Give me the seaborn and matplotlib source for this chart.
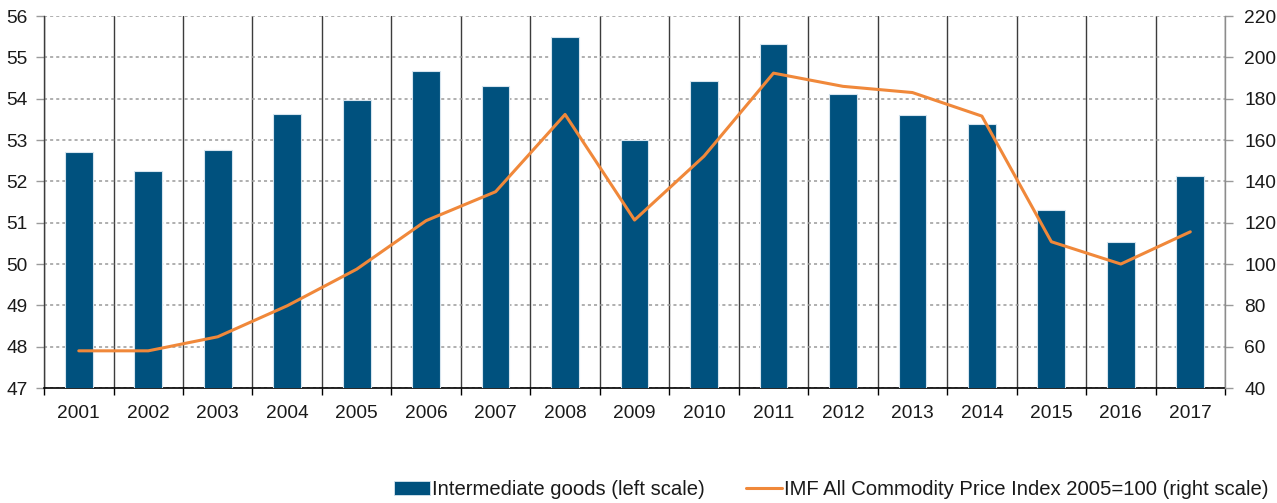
import numpy as np
import pandas as pd
import matplotlib
matplotlib.use("Agg")
import matplotlib.pyplot as plt
import seaborn as sns
from matplotlib.patches import Patch
from matplotlib.lines import Line2D

years = ["2001", "2002", "2003", "2004", "2005", "2006", "2007", "2008", "2009",
         "2010", "2011", "2012", "2013", "2014", "2015", "2016", "2017"]
intermediate_goods = [52.7, 52.25, 52.77, 53.62, 53.96, 54.66, 54.3, 55.5, 53.0,
                      54.43, 55.32, 54.12, 53.6, 53.4, 51.3, 50.54, 52.14]
commodity_index = [58, 58, 64.8, 79.8, 97.5, 121, 135, 172.4, 121.3,
                   152.2, 192.4, 186, 183, 171.6, 110.8, 100, 115.6]

bar_label = "Intermediate goods (left scale)"
line_label = "IMF All Commodity Price Index 2005=100 (right scale)"

bar_color = "#00517E"
line_color = "#F0883A"
grid_dark = "#3C3C3C"
text_color = "#1A1A1A"

sns.set_style("white")
plt.rcParams["font.family"] = ["Liberation Sans", "DejaVu Sans"]

df = pd.DataFrame({"year": years, "goods": intermediate_goods,
                   "index": commodity_index})
df["pos"] = np.arange(len(df))

fig = plt.figure(figsize=(12.77, 5.03), dpi=100)
ax = fig.add_axes([0.0345, 0.2286, 0.9248, 0.7394])

sns.barplot(data=df, x="year", y="goods", ax=ax, color=bar_color,
            width=0.4, saturation=1, edgecolor="#D6E4EE", linewidth=0.8,
            zorder=3)
ax.set_ylim(47, 56)
ax.set_xlim(-0.5, len(years) - 0.5)
ax.set_yticks(np.arange(47, 57, 1))
ax.set_xlabel("")
ax.set_ylabel("")

# horizontal dotted grid
ax.grid(axis="y", which="major", color="#9A9A9A", linestyle=(0, (2, 2)),
        linewidth=1.1, zorder=0)
# vertical separators between years
ax.set_xticks(np.arange(-0.5, len(years)), minor=True)
ax.grid(axis="x", which="minor", color=grid_dark, linestyle="-",
        linewidth=1.0, zorder=1)
ax.grid(axis="x", which="major", visible=False)

ax.tick_params(axis="x", which="major", length=0, pad=12, labelsize=13.8,
               labelcolor=text_color)
ax.tick_params(axis="x", which="minor", length=5, width=1, color="black",
               direction="out", bottom=True)
ax.tick_params(axis="y", length=6, width=1, color="#9A9A9A", pad=6,
               labelsize=13.8, labelcolor=text_color, left=True)

for side in ["top", "right"]:
    ax.spines[side].set_visible(False)
ax.spines["left"].set_color(grid_dark)
ax.spines["left"].set_linewidth(1.0)
ax.spines["bottom"].set_color("black")
ax.spines["bottom"].set_linewidth(1.2)

ax2 = ax.twinx()
sns.lineplot(x=df["pos"], y=df["index"], ax=ax2, color=line_color,
             linewidth=2.2, zorder=4)
ax2.set_ylim(40, 220)
ax2.set_yticks(np.arange(40, 221, 20))
ax2.set_xlim(-0.5, len(years) - 0.5)
ax2.set_ylabel("")
ax2.set_xlabel("")
ax2.tick_params(axis="y", length=6, width=1, color="#9A9A9A", pad=8,
                labelsize=13.8, labelcolor=text_color, right=True)
for side in ["top", "left", "bottom"]:
    ax2.spines[side].set_visible(False)
ax2.spines["right"].set_color("#8C8C8C")
ax2.spines["right"].set_linewidth(1.0)

handles = [Patch(facecolor=bar_color, edgecolor="#D6E4EE", linewidth=0.6),
           Line2D([0], [0], color=line_color, linewidth=2.2)]
fig.legend(handles, [bar_label, line_label], loc="center",
           bbox_to_anchor=(0.651, 0.026), ncol=2, frameon=False,
           fontsize=14.6, handlelength=1.8, handleheight=0.7,
           handletextpad=0.1, columnspacing=2.0, labelcolor=text_color)

fig.savefig("out.png", dpi=100)
